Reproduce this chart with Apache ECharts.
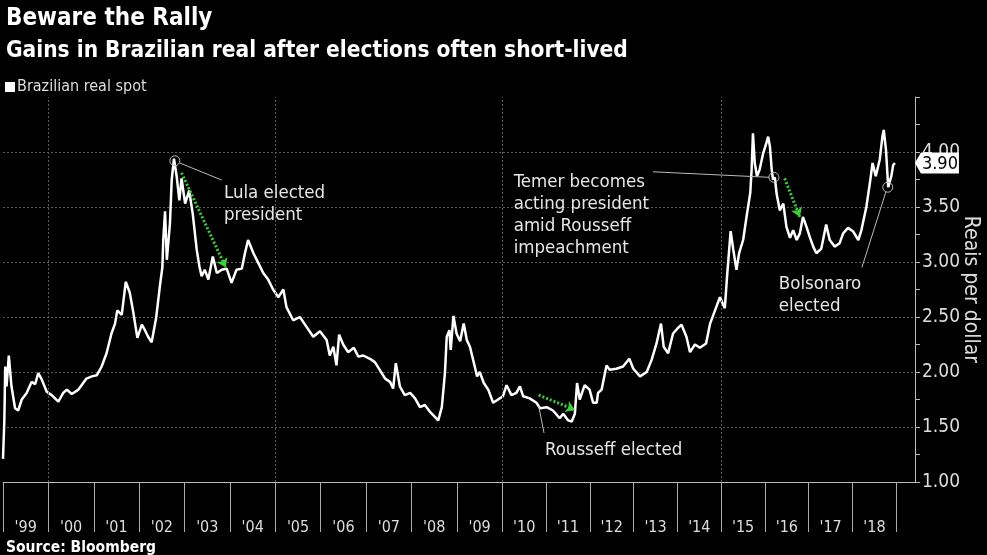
<!DOCTYPE html>
<html><head><meta charset="utf-8">
<script src="https://cdn.jsdelivr.net/npm/echarts@6/dist/echarts.min.js"></script>
<style>html,body{margin:0;padding:0;background:#000;}#c{width:987px;height:555px;}</style>
</head><body><div id="c"></div><script>
const FONT = "'DejaVu Sans Condensed', sans-serif";
const yearLabelsA = ["'99","'00","'01","'02","'03","'04","'05","'06","'07","'08","'09"];
const yearLabelsB = ["'10","'11","'12","'13","'14","'15","'16","'17","'18"];
const yTickValues = [1.0, 1.5, 2.0, 2.5, 3.0, 3.5, 4.0];
// positions (on the chart's time scale) of the dotted vertical grid lines at '00, '05, '10, '15
const fiveYearLines = [2000.02, 2005.10, 2010.18, 2015.10];
// time positions and spot values (reais per dollar)
const spotTime = [
1999.00,1999.02,1999.03,1999.05,1999.08,1999.13,1999.19,1999.27,1999.34,1999.42,1999.53,1999.64,1999.72,1999.79,1999.87,1999.98,
2000.09,2000.24,2000.35,2000.43,2000.54,2000.69,2000.87,2000.99,
2001.10,2001.21,2001.32,2001.43,2001.51,2001.56,2001.66,2001.75,2001.84,2001.92,
2002.01,2002.11,2002.18,2002.25,2002.33,2002.43,2002.52,2002.57,2002.59,2002.63,2002.67,2002.74,2002.78,2002.83,2002.89,2002.95,
2003.00,2003.08,2003.17,2003.25,2003.34,2003.40,2003.45,2003.52,2003.60,2003.70,2003.79,2003.90,
2004.01,2004.12,2004.23,2004.35,2004.42,2004.49,2004.61,2004.72,2004.83,2004.94,
2005.05,2005.17,2005.28,2005.35,2005.50,2005.65,2005.80,2005.95,
2006.10,2006.25,2006.32,2006.40,2006.47,2006.53,2006.62,2006.73,2006.86,2006.96,
2007.07,2007.22,2007.33,2007.44,2007.56,2007.67,2007.74,2007.80,2007.89,
2008.00,2008.12,2008.23,2008.34,2008.45,2008.56,2008.68,2008.75,2008.83,2008.90,2008.94,
2009.00,2009.03,2009.09,2009.16,2009.24,2009.32,2009.39,2009.46,2009.55,2009.62,2009.68,2009.77,2009.87,2009.98,
2010.09,2010.20,2010.28,2010.39,2010.50,2010.58,2010.65,2010.80,2010.95,
2011.03,2011.18,2011.32,2011.47,2011.55,2011.66,2011.74,2011.81,2011.86,2011.92,
2012.03,2012.14,2012.22,2012.30,2012.33,2012.41,2012.52,2012.59,2012.74,2012.89,
2013.03,2013.12,2013.27,2013.42,2013.53,2013.64,2013.74,2013.80,2013.90,
2014.01,2014.12,2014.20,2014.31,2014.39,2014.50,2014.61,2014.75,2014.84,2014.95,
2015.06,2015.17,2015.22,2015.30,2015.36,2015.43,2015.49,2015.58,2015.66,2015.74,2015.77,2015.80,2015.84,2015.89,2015.95,
2016.03,2016.10,2016.14,2016.18,2016.22,2016.25,2016.29,2016.33,2016.40,2016.48,2016.55,2016.63,2016.70,2016.78,2016.85,2016.92,
2017.00,2017.07,2017.15,2017.22,2017.33,2017.44,2017.52,2017.63,2017.74,2017.82,2017.93,
2018.04,2018.16,2018.23,2018.34,2018.42,2018.48,2018.55,2018.64,2018.70,2018.73,2018.78,2018.83,2018.90,2018.94,2018.98
];
const spotValue = [
1.21,1.21,1.56,2.05,1.87,2.15,1.87,1.67,1.65,1.75,1.81,1.91,1.89,1.99,1.93,1.82,
1.79,1.73,1.81,1.84,1.80,1.84,1.94,1.96,
1.97,2.05,2.17,2.35,2.44,2.56,2.52,2.82,2.72,2.54,
2.31,2.43,2.38,2.32,2.27,2.49,2.80,2.95,3.20,3.46,3.02,3.35,3.75,3.94,3.78,3.56,
3.76,3.53,3.65,3.44,3.11,2.96,2.87,2.93,2.84,3.05,2.90,2.93,
2.94,2.81,2.93,2.94,3.08,3.20,3.08,2.99,2.90,2.84,
2.75,2.68,2.75,2.59,2.47,2.50,2.41,2.32,
2.37,2.29,2.15,2.23,2.06,2.34,2.25,2.18,2.22,2.14,
2.15,2.12,2.09,2.02,1.94,1.91,1.85,2.08,1.87,
1.79,1.81,1.76,1.68,1.70,1.64,1.59,1.56,1.68,1.99,2.32,
2.38,2.20,2.51,2.35,2.28,2.44,2.29,2.23,2.08,1.96,2.00,1.90,1.84,1.72,
1.75,1.78,1.88,1.79,1.81,1.87,1.78,1.76,1.72,
1.67,1.68,1.65,1.58,1.62,1.56,1.55,1.62,1.90,1.75,
1.88,1.84,1.72,1.72,1.81,1.84,2.06,2.02,2.03,2.05,
2.12,2.03,1.96,2.00,2.11,2.26,2.44,2.23,2.17,
2.35,2.40,2.43,2.32,2.18,2.25,2.22,2.26,2.44,2.56,
2.68,2.58,2.87,3.28,3.11,2.93,3.08,3.20,3.42,3.63,3.84,4.17,3.90,3.78,3.84,
3.99,4.08,4.14,4.05,3.84,3.75,3.77,3.62,3.47,3.53,3.32,3.22,3.29,3.20,3.26,3.41,
3.32,3.23,3.14,3.08,3.12,3.34,3.20,3.14,3.17,3.26,3.31,
3.28,3.20,3.29,3.50,3.72,3.90,3.78,3.93,4.14,4.20,4.02,3.68,3.78,3.88,3.90
];
// annotations in data coordinates [time, value]
const eventCircles = [[2002.85, 3.92], [2016.27, 3.77], [2018.82, 3.68]];
const connectors = [
  [[2002.96, 3.90], [2003.90, 3.745]],
  [[2011.00, 1.69], [2011.12, 1.445]],
  [[2013.56, 3.82], [2016.16, 3.77]],
  [[2018.78, 3.64], [2018.24, 2.95]]
];
const trendArrows = [
  [[2003.00, 3.81], [2003.99, 2.95]],
  [[2011.00, 1.79], [2011.81, 1.655]],
  [[2016.51, 3.76], [2016.85, 3.41]]
];
const notes = [
  {text: 'Lula elected\npresident', at: [2003.95, 3.73]},
  {text: 'Rousseff elected', at: [2011.14, 1.39]},
  {text: 'Temer becomes\nacting president\namid Rousseff\nimpeachment', at: [2010.44, 3.826]},
  {text: 'Bolsonaro\nelected', at: [2016.38, 2.90]}
];

const seriesData = spotTime.map((t, i) => [t, spotValue[i]]);
const last = seriesData[seriesData.length - 1];

const chart = echarts.init(document.getElementById('c'), null, {renderer: 'canvas'});
const markPts = [];
eventCircles.forEach(c => markPts.push({
  coord: c, symbol: 'circle', symbolSize: 10,
  itemStyle: {color: 'rgba(0,0,0,0)', borderColor: '#bbb', borderWidth: 1},
  label: {show: false}
}));
notes.forEach(n => markPts.push({
  coord: n.at, symbol: 'rect', symbolSize: 0,
  itemStyle: {color: 'rgba(0,0,0,0)'},
  label: {show: true, formatter: n.text, position: [0, 0], align: 'left', verticalAlign: 'top',
    color: '#e6e6e6', fontSize: 18.5, lineHeight: 22, fontFamily: FONT}
}));
markPts.push({
  coord: last, value: last[1].toFixed(2),
  symbol: 'path://M0,10 L6,0 L44,0 L44,20 L6,20 Z', symbolSize: [44, 21], symbolOffset: [42, 0],
  itemStyle: {color: '#fff'},
  label: {show: true, position: 'inside', formatter: '{c}', color: '#000', fontSize: 18, offset: [3, 1], fontFamily: FONT}
});

const markLns = [];
connectors.forEach(c => markLns.push([
  {coord: c[0], lineStyle: {color: '#bbb', width: 1, type: 'solid'}, symbol: 'none'},
  {coord: c[1], symbol: 'none'}
]));
trendArrows.forEach(c => markLns.push([
  {coord: c[0], lineStyle: {color: '#3ccf3c', width: 3, type: [2, 2]}, symbol: 'none'},
  {coord: c[1], symbol: 'arrow', symbolSize: 9}
]));

function yearAxis(grid, labels) {
  return {type: 'category', gridIndex: grid, data: labels, boundaryGap: true,
    axisLine: {show: false},
    axisTick: {show: true, interval: 0, length: 50, lineStyle: {color: '#aaa'}},
    axisLabel: {show: true, interval: 0, color: '#ddd', fontSize: 16, margin: 38, fontFamily: FONT},
    splitLine: {show: false}};
}

chart.setOption({
  backgroundColor: '#000',
  animation: false,
  textStyle: {fontFamily: FONT},
  title: [
    {text: 'Beware the Rally', left: 1, top: 2, textStyle: {color: '#fff', fontSize: 24, fontWeight: 'bold', fontFamily: FONT}},
    {text: 'Gains in Brazilian real after elections often short-lived', left: 1, top: 35, textStyle: {color: '#fff', fontSize: 22.5, fontWeight: 'bold', fontFamily: FONT}},
    {text: 'Source: Bloomberg', left: 1, top: 535, textStyle: {color: '#fff', fontSize: 15.5, fontWeight: 'bold', fontFamily: FONT}}
  ],
  legend: {
    left: 0, top: 74, icon: 'rect', itemWidth: 10, itemHeight: 10, itemGap: 4,
    data: ['Brazilian real spot'],
    textStyle: {color: '#ddd', fontSize: 16, fontFamily: FONT, padding: [0, 0, 0, -3]}
  },
  grid: [
    {left: 3, right: 72, top: 97, bottom: 73, outerBoundsMode: 'none', containLabel: false},
    {left: 3, right: 484.7, top: 97, bottom: 73, outerBoundsMode: 'none', containLabel: false},
    {left: 502.3, right: 90.7, top: 97, bottom: 73, outerBoundsMode: 'none', containLabel: false}
  ],
  xAxis: [
    {type: 'value', gridIndex: 0, min: 1999, max: 2019.43,
     axisLine: {show: true, lineStyle: {color: '#bbb', width: 1}}, axisTick: {show: false},
     axisLabel: {show: false}, splitLine: {show: false}},
    yearAxis(1, yearLabelsA),
    yearAxis(2, yearLabelsB)
  ],
  yAxis: [
    {type: 'value', gridIndex: 0, position: 'right', min: 1, max: 4.5, interval: 0.5,
     axisLine: {show: true, lineStyle: {color: '#bbb'}},
     axisTick: {show: true, length: 5, lineStyle: {color: '#bbb'}},
     minorTick: {show: true, splitNumber: 2, length: 5, lineStyle: {color: '#bbb'}},
     axisLabel: {color: '#ddd', fontSize: 19, margin: 7, fontFamily: FONT, showMaxLabel: false,
       formatter: v => yTickValues.indexOf(v) >= 0 ? v.toFixed(2) : ''},
     splitLine: {show: true, showMinLine: false, showMaxLine: false, lineStyle: {color: '#5a5a5a', type: [2, 2]}},
     name: 'Reais per dollar', nameLocation: 'middle', nameRotate: -90, nameGap: 45, nameMoveOverlap: false,
     nameTextStyle: {color: '#ddd', fontSize: 21, fontFamily: FONT}},
    {type: 'value', gridIndex: 1, show: false, min: 1, max: 4.5},
    {type: 'value', gridIndex: 2, show: false, min: 1, max: 4.5}
  ],
  series: [
    {
      name: 'grid', type: 'line', xAxisIndex: 0, yAxisIndex: 0, z: 1, data: [],
      silent: true, symbol: 'none',
      markLine: {silent: true, symbol: 'none', label: {show: false},
        lineStyle: {color: '#5a5a5a', type: [2, 2], width: 1},
        data: fiveYearLines.map(y => ({xAxis: y}))}
    },
    {
      name: 'Brazilian real spot', type: 'line', xAxisIndex: 0, yAxisIndex: 0, z: 3,
      data: seriesData, showSymbol: false, symbol: 'none',
      itemStyle: {color: '#fff'},
      lineStyle: {color: '#fff', width: 2.5},
      markPoint: {silent: true, data: markPts},
      markLine: {silent: true, symbol: 'none', label: {show: false}, data: markLns}
    }
  ]
});
</script></body></html>
